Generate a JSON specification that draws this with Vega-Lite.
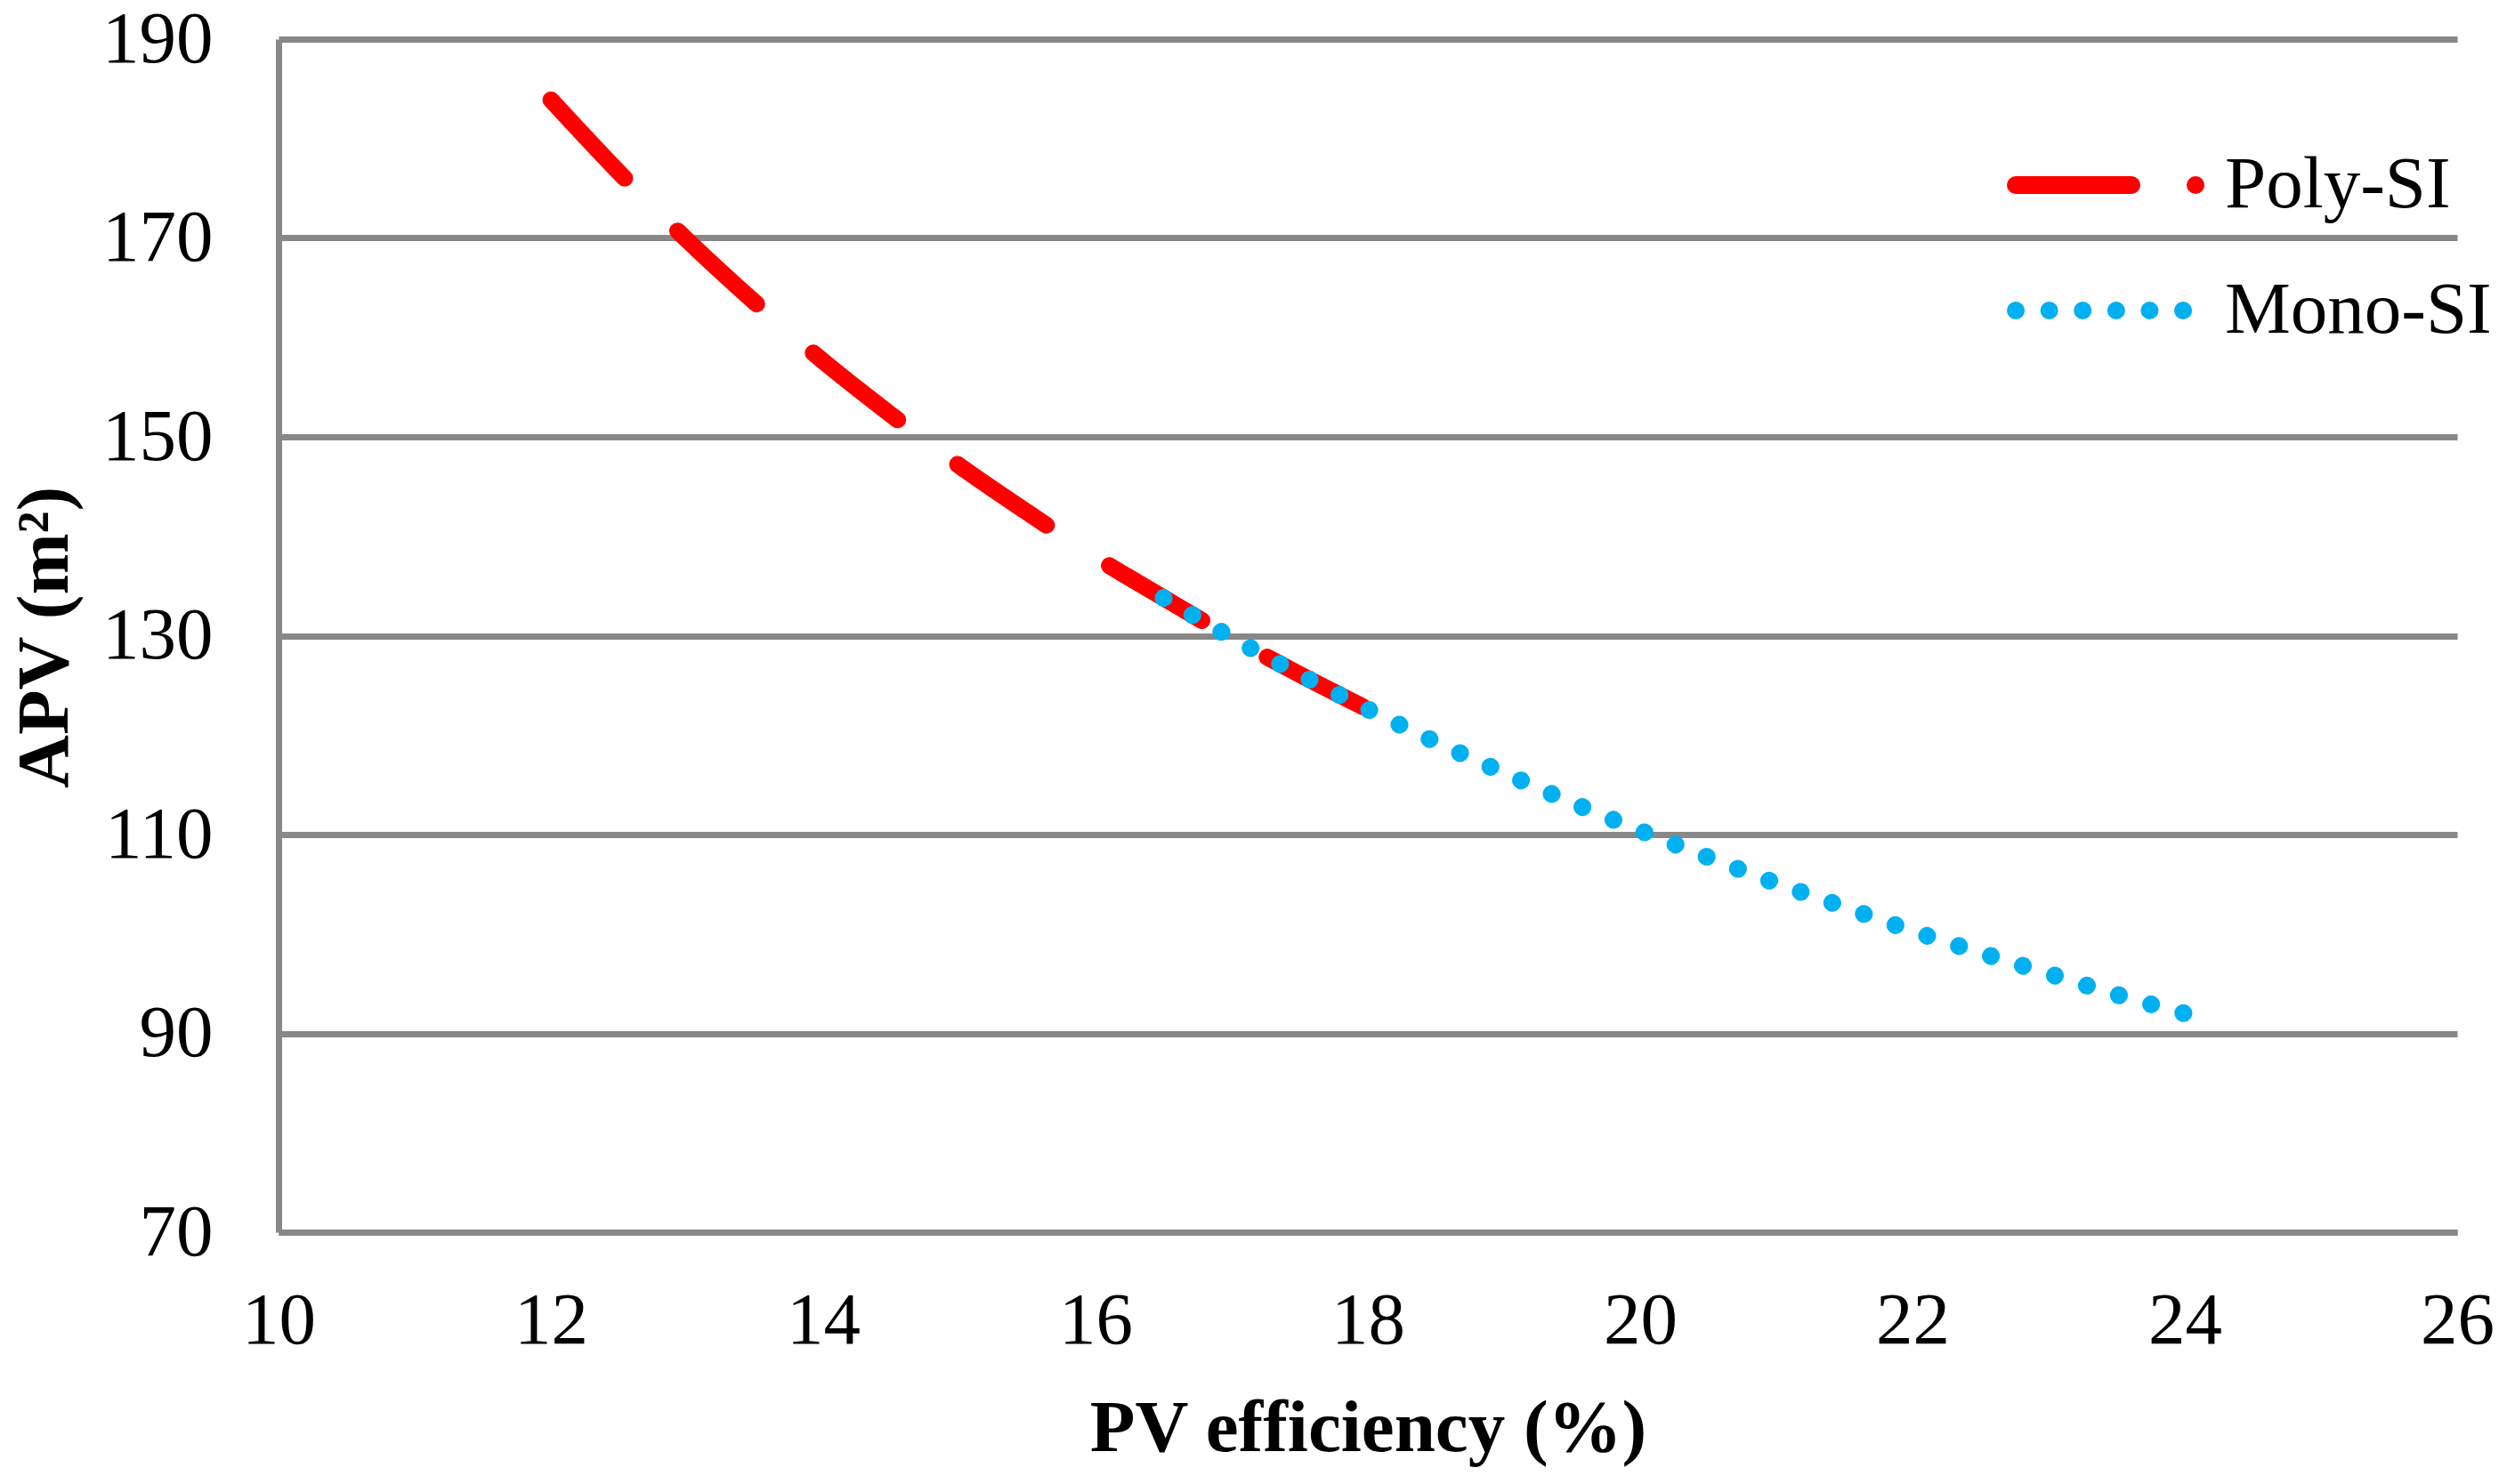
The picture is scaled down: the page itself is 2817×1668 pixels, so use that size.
{
  "$schema": "https://vega.github.io/schema/vega-lite/v6.json",
  "autosize": {"type": "none"},
  "width": 2448,
  "height": 1341,
  "padding": {"left": 313, "top": 44, "right": 56, "bottom": 283},
  "background": "white",
  "config": {
    "font": "Liberation Serif",
    "view": {"stroke": null},
    "axis": {
      "domainColor": "#888888",
      "domainWidth": 7,
      "gridColor": "#888888",
      "gridWidth": 7,
      "ticks": false,
      "tickSize": 0,
      "labelFont": "Liberation Serif",
      "labelFontSize": 83,
      "labelColor": "black",
      "titleFont": "Liberation Serif",
      "titleFontSize": 83,
      "titleFontWeight": "bold",
      "titleColor": "black"
    }
  },
  "data": {
    "values": [
      {"series": "Poly-SI", "eff": 12.0, "apv": 183.9},
      {"series": "Poly-SI", "eff": 12.5, "apv": 176.6},
      {"series": "Poly-SI", "eff": 13.0, "apv": 169.8},
      {"series": "Poly-SI", "eff": 13.5, "apv": 163.5},
      {"series": "Poly-SI", "eff": 14.0, "apv": 157.6},
      {"series": "Poly-SI", "eff": 14.5, "apv": 152.2},
      {"series": "Poly-SI", "eff": 15.0, "apv": 147.1},
      {"series": "Poly-SI", "eff": 15.5, "apv": 142.4},
      {"series": "Poly-SI", "eff": 16.0, "apv": 137.9},
      {"series": "Poly-SI", "eff": 16.5, "apv": 133.8},
      {"series": "Poly-SI", "eff": 17.0, "apv": 129.8},
      {"series": "Poly-SI", "eff": 17.5, "apv": 126.1},
      {"series": "Poly-SI", "eff": 18.0, "apv": 122.6},
      {"series": "Mono-SI", "eff": 16.5, "apv": 133.8},
      {"series": "Mono-SI", "eff": 17.0, "apv": 129.8},
      {"series": "Mono-SI", "eff": 17.5, "apv": 126.1},
      {"series": "Mono-SI", "eff": 18.0, "apv": 122.6},
      {"series": "Mono-SI", "eff": 18.5, "apv": 119.3},
      {"series": "Mono-SI", "eff": 19.0, "apv": 116.2},
      {"series": "Mono-SI", "eff": 19.5, "apv": 113.2},
      {"series": "Mono-SI", "eff": 20.0, "apv": 110.4},
      {"series": "Mono-SI", "eff": 20.5, "apv": 107.7},
      {"series": "Mono-SI", "eff": 21.0, "apv": 105.1},
      {"series": "Mono-SI", "eff": 21.5, "apv": 102.7},
      {"series": "Mono-SI", "eff": 22.0, "apv": 100.3},
      {"series": "Mono-SI", "eff": 22.5, "apv": 98.1},
      {"series": "Mono-SI", "eff": 23.0, "apv": 96.0},
      {"series": "Mono-SI", "eff": 23.5, "apv": 93.9},
      {"series": "Mono-SI", "eff": 24.0, "apv": 92.0}
    ]
  },
  "encoding": {
    "x": {
      "field": "eff",
      "type": "quantitative",
      "scale": {"domain": [10, 26], "nice": false, "zero": false},
      "axis": {
        "title": "PV efficiency (%)",
        "values": [10, 12, 14, 16, 18, 20, 22, 24, 26],
        "grid": false,
        "labelBaseline": "alphabetic",
        "labelPadding": 124,
        "labelFlush": false,
        "titleBaseline": "alphabetic",
        "titleY": 245,
        "titleX": 1224
      }
    },
    "y": {
      "field": "apv",
      "type": "quantitative",
      "scale": {"domain": [70, 190], "nice": false, "zero": false},
      "axis": {
        "title": "APV (m²)",
        "values": [70, 90, 110, 130, 150, 170, 190],
        "grid": true,
        "labelPadding": 74,
        "labelFlush": false,
        "labelBaseline": "middle",
        "titleAngle": -90,
        "titleBaseline": "alphabetic",
        "titleAlign": "center",
        "titleX": -238,
        "titleY": 672
      }
    },
    "color": {
      "field": "series",
      "type": "nominal",
      "scale": {"domain": ["Poly-SI", "Mono-SI"], "range": ["#FF0000", "#00B0F0"]},
      "legend": {
        "title": null,
        "orient": "none",
        "legendX": 1942,
        "legendY": 122,
        "padding": 0,
        "clipHeight": 84,
        "rowPadding": 57,
        "symbolType": "stroke",
        "symbolSize": 43264,
        "symbolStrokeWidth": 20,
        "labelFont": "Liberation Serif",
        "labelFontSize": 83,
        "labelColor": "black",
        "labelOffset": 17,
        "labelLimit": 1000,
        "encode": {
          "symbols": {
            "update": {
              "strokeDash": {"signal": "datum.value === 'Poly-SI' ? [130, 72, 0.1, 600] : [0.1, 37.5]"},
              "strokeCap": {"value": "round"}
            }
          }
        }
      }
    }
  },
  "layer": [
    {
      "transform": [{"filter": "datum.series === 'Poly-SI'"}],
      "mark": {"type": "line", "strokeWidth": 19, "strokeDash": [121, 84], "strokeCap": "round", "strokeJoin": "round", "interpolate": "monotone"}
    },
    {
      "transform": [{"filter": "datum.series === 'Mono-SI'"}],
      "mark": {"type": "line", "strokeWidth": 20, "strokeDash": [0.1, 37.5], "strokeCap": "round", "strokeJoin": "round", "interpolate": "monotone"}
    }
  ]
}
